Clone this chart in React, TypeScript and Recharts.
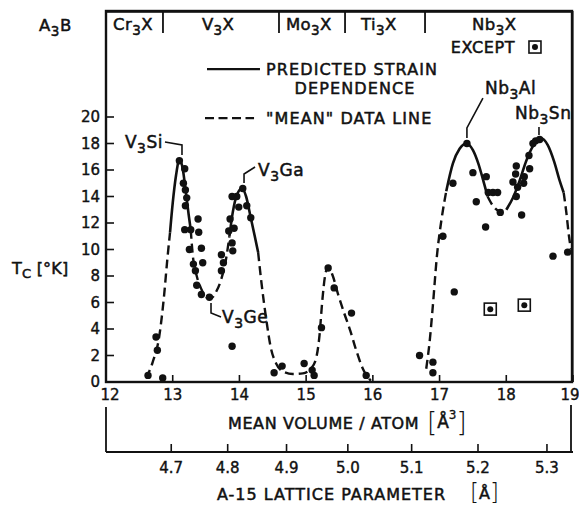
import React from 'react';
import { ComposedChart, XAxis, YAxis, Line, Scatter, CartesianGrid } from 'recharts';

const FONT = '"DejaVu Sans", "Liberation Sans", sans-serif';
const INK = '#111';
const MARGIN = { top: 11, right: 6, bottom: 0, left: 66 };

// ---- axis ticks ----
const volumeTicks = [12, 13, 14, 15, 16, 17, 18, 19];
const tcTicks = [0, 2, 4, 6, 8, 10, 12, 14, 16, 18, 20];
const latticeTicks = [4.7, 4.8, 4.9, 5.0, 5.1, 5.2, 5.3];

type P = [number, number];

// ---- measured points: [mean volume per atom (A^3), Tc (K)] ----
const vPoints: P[] = [
  [12.63, 0.5], [12.75, 3.4], [12.77, 2.4], [12.85, 0.3],
  [13.1, 16.7], [13.18, 16.1], [13.16, 15.0], [13.19, 14.5], [13.21, 13.9], [13.19, 13.3],
  [13.18, 11.5], [13.27, 11.5], [13.38, 12.3], [13.39, 11.3], [13.25, 10.0], [13.43, 10.1],
  [13.45, 9.0], [13.31, 8.9], [13.34, 8.4], [13.36, 7.3], [13.43, 6.6], [13.55, 6.4],
  [14.05, 14.6], [13.89, 14.0], [13.96, 14.0], [13.99, 13.2], [14.11, 13.3], [14.17, 12.4],
  [13.86, 12.3], [13.92, 11.6], [13.84, 11.4], [13.89, 10.5], [13.9, 9.9], [13.73, 9.6],
  [13.76, 9.0], [13.73, 8.4], [13.89, 2.7], [14.52, 0.7], [14.64, 1.2],
];
const moPoints: P[] = [
  [14.97, 1.4], [15.09, 0.9], [15.12, 0.5], [15.23, 4.1], [15.33, 8.6], [15.42, 7.1],
  [15.68, 5.2], [15.9, 0.5],
];
const nbPoints: P[] = [
  [16.7, 2.0], [16.9, 1.5], [16.9, 0.7], [17.05, 11.0], [17.22, 6.8], [17.2, 15.0],
  [17.41, 18.0], [17.5, 15.8], [17.7, 15.5], [17.73, 14.3], [17.8, 14.3], [17.87, 14.3],
  [17.55, 13.6], [17.69, 11.7], [17.91, 12.8], [18.23, 12.6], [18.15, 14.0], [18.17, 14.7],
  [18.1, 15.1], [18.26, 15.0], [18.14, 15.7], [18.15, 16.3], [18.35, 16.1], [18.27, 15.5],
  [18.34, 17.1], [18.4, 18.0], [18.44, 18.2], [18.5, 18.3], [18.7, 9.5], [18.92, 9.8],
];
const exceptPoints: P[] = [[17.76, 5.5], [18.27, 5.8]];

// ---- "predicted strain dependence" (solid) ----
const solidCurves: P[][] = [
  [[12.96, 11.3], [13.0, 13.5], [13.05, 15.6], [13.1, 16.8], [13.15, 16.1], [13.2, 14.2], [13.24, 12.6], [13.27, 11.5]],
  [[13.85, 11.0], [13.9, 12.8], [13.96, 14.1], [14.04, 14.6], [14.1, 14.0], [14.17, 12.4], [14.23, 11.0], [14.28, 9.8]],
  [[17.1, 14.4], [17.2, 16.5], [17.3, 17.6], [17.4, 18.0], [17.5, 17.5], [17.58, 16.5], [17.65, 15.3], [17.72, 14.0]],
  [[18.0, 13.0], [18.1, 13.9], [18.2, 15.2], [18.3, 16.7], [18.4, 17.8], [18.52, 18.4], [18.62, 17.9], [18.72, 16.6], [18.8, 15.2], [18.86, 14.3]],
];

// ---- "mean" data line (dashed) ----
const dashedCurves: P[][] = [
  [[12.6, 0.3], [12.7, 1.5], [12.8, 3.5], [12.87, 6.5], [12.92, 9.3], [12.96, 11.3]],
  [[13.27, 11.5], [13.3, 9.6], [13.36, 8.0], [13.43, 7.0], [13.5, 6.4], [13.57, 6.3], [13.65, 6.8], [13.73, 7.8], [13.8, 9.3], [13.85, 11.0]],
  [[14.28, 9.8], [14.33, 7.5], [14.4, 4.8], [14.47, 2.6], [14.55, 1.4], [14.65, 0.8], [14.8, 0.6], [14.95, 0.65], [15.07, 1.0],
   [15.15, 1.8], [15.2, 3.5], [15.24, 6.0], [15.28, 7.9], [15.33, 8.7], [15.4, 8.0], [15.48, 6.6], [15.57, 5.2], [15.66, 3.9],
   [15.75, 2.4], [15.85, 1.0], [15.97, 0.1]],
  [[16.8, 1.0], [16.85, 3.0], [16.9, 5.8], [16.96, 9.5], [17.03, 12.3], [17.1, 14.4]],
  [[17.72, 14.0], [17.8, 13.3], [17.9, 12.9], [18.0, 13.0]],
  [[18.86, 14.3], [18.9, 12.8], [18.94, 11.0], [18.97, 10.0]],
];

// ---- header strip ----
const familyDividers = [12.854, 14.593, 15.583, 16.782];
const familyLabels = [
  { x: 12.405, y: 27.0, text: 'Cr_3X' },
  { x: 13.68, y: 27.0, text: 'V_3X' },
  { x: 15.04, y: 27.0, text: 'Mo_3X' },
  { x: 16.09, y: 27.0, text: 'Ti_3X' },
  { x: 17.82, y: 27.0, text: 'Nb_3X' },
];

// ---- annotations ----
const textNotes = [
  { x: 17.65, y: 25.28, text: 'EXCEPT', anchor: 'middle', fs: 16, sp: 0.6 },
  { x: 14.4, y: 23.62, text: 'PREDICTED STRAIN', anchor: 'start', fs: 16, sp: 1.1 },
  { x: 15.733, y: 22.19, text: 'DEPENDENCE', anchor: 'middle', fs: 16, sp: 1.1 },
  { x: 14.4, y: 19.92, text: '"MEAN" DATA LINE', anchor: 'start', fs: 16, sp: 1.1 },
  { x: 12.854, y: 18.11, text: 'V_3Si', anchor: 'end', fs: 17, sp: 0.5 },
  { x: 14.28, y: 16.0, text: 'V_3Ga', anchor: 'start', fs: 17, sp: 0.5 },
  { x: 13.74, y: 4.91, text: 'V_3Ge', anchor: 'start', fs: 17, sp: 0.5 },
  { x: 17.68, y: 22.2, text: 'Nb_3Al', anchor: 'start', fs: 17, sp: 0.5 },
  { x: 18.13, y: 20.3, text: 'Nb_3Sn', anchor: 'start', fs: 17, sp: 0.5 },
];
const legendSymbolExcept: P[] = [[18.43, 25.28]];
const legendSolid: P[] = [[13.514, 23.62], [14.308, 23.62]];
const legendDashed: P[] = [[13.484, 19.92], [14.219, 19.92]];
const leaders: P[][] = [
  [[12.884, 18.11], [13.139, 17.89], [13.139, 17.13]],
  [[14.069, 15.02], [14.069, 15.7], [14.234, 16.23]],
  [[13.574, 5.96], [13.574, 5.21], [13.724, 4.91]],
  [[17.41, 18.42], [17.41, 19.17], [17.65, 21.43]],
  [[18.49, 19.25], [18.49, 18.64]],
];
const latticeAnchor: P[] = [[12, 0], [19, 0]];

const toXY = (arr: P[]) => arr.map(([x, y]) => ({ x, y }));

function Rich({ x, y, text, size, anchor = 'start', spacing = 0 }: any) {
  const tokens = text.split(/(_.|\^.)/).filter((t: string) => t.length > 0);
  let shift = 0;
  const nodes = tokens.map((t: string, i: number) => {
    let target = 0;
    let fs = size;
    let content = t;
    if (t[0] === '_') { target = size * 0.28; fs = size * 0.82; content = t.slice(1); }
    else if (t[0] === '^') { target = -size * 0.42; fs = size * 0.72; content = t.slice(1); }
    const dy = target - shift;
    shift = target;
    return <tspan key={i} dy={dy} fontSize={fs}>{content}</tspan>;
  });
  return (
    <text x={x} y={y} textAnchor={anchor} fontFamily={FONT} fontSize={size} fill={INK}
      letterSpacing={spacing} stroke={INK} strokeWidth={0.5}>
      {nodes}
    </text>
  );
}

const DotShape = (p: any) => <circle cx={p.cx} cy={p.cy} r={3.7} fill={INK} />;
const BoxShape = (p: any) => (
  <g>
    <rect x={p.cx - 6} y={p.cy - 6} width={12} height={12} fill="#fff" stroke={INK} strokeWidth={1.6} />
    <circle cx={p.cx} cy={p.cy} r={3} fill={INK} />
  </g>
);
const LabelShape = (p: any) => {
  const d = p.payload;
  return <Rich x={p.cx} y={p.cy + d.fs * 0.36} text={d.text} size={d.fs} anchor={d.anchor} spacing={d.sp} />;
};
const HeaderShape = (p: any) => (
  <Rich x={p.cx} y={p.cy + 6} text={p.payload.text} size={16.5} anchor="middle" spacing={0.4} />
);
const NoShape = () => <g />;

const YTick = (p: any) => {
  const { x, y, payload } = p;
  return (
    <g>
      <line x1={x} x2={x + 8} y1={y} y2={y} stroke={INK} strokeWidth={1.6} />
      <text x={x - 6} y={y + 5} textAnchor="end" fontSize={15} fontFamily={FONT} fill={INK} stroke={INK} strokeWidth={0.4}>
        {payload.value}
      </text>
    </g>
  );
};
const XTick = (p: any) => {
  const { x, y, payload, index } = p;
  const dx = index === 0 ? 4 : payload.value === 19 ? -3 : 0;
  return (
    <g>
      <line x1={x} x2={x} y1={y} y2={y - 7} stroke={INK} strokeWidth={1.6} />
      <text x={x + dx} y={y + 18} textAnchor="middle" fontSize={15} fontFamily={FONT} fill={INK}
        stroke={INK} strokeWidth={0.4}>
        {payload.value}
      </text>
    </g>
  );
};
const LatTick = (p: any) => {
  const { x, y, payload } = p;
  const a = Math.cbrt(payload.value * 8);
  return (
    <g>
      <line x1={x} x2={x} y1={y} y2={y - 8} stroke={INK} strokeWidth={1.6} />
      <text x={x} y={y + 21} textAnchor="middle" fontSize={15} fontFamily={FONT} fill={INK} stroke={INK} strokeWidth={0.4}>
        {a.toFixed(1)}
      </text>
    </g>
  );
};

const VolumeTitle = (p: any) => {
  const vb = p.viewBox;
  return (
    <g>
      {/* plot frame */}
      <rect x={vb.x} y={MARGIN.top} width={vb.width - 1} height={vb.y - MARGIN.top}
        fill="none" stroke={INK} strokeWidth={2.4} />
      <Rich x={vb.x + 122} y={vb.y + 47} text="MEAN VOLUME / ATOM" size={16} spacing={0.6} />
      <text x={vb.x + 321} y={vb.y + 49} fontFamily={FONT} fill={INK}>
        <tspan fontSize={26} fontWeight={200}>[</tspan>
        <tspan fontSize={17} dy={-3} stroke={INK} strokeWidth={0.5}>Å</tspan>
        <tspan fontSize={12} dy={-9} stroke={INK} strokeWidth={0.3}>3</tspan>
        <tspan fontSize={26} dy={12} fontWeight={200}>]</tspan>
      </text>
    </g>
  );
};
const LatticeTitle = (p: any) => {
  const vb = p.viewBox;
  return (
    <g>
      <line x1={vb.x} x2={vb.x} y1={vb.y} y2={vb.y - 45} stroke={INK} strokeWidth={1.8} />
      <line x1={vb.x + vb.width - 2} x2={vb.x + vb.width - 2} y1={vb.y} y2={vb.y - 47} stroke={INK} strokeWidth={1.8} />
      <Rich x={vb.x + 111} y={vb.y + 48} text="A-15 LATTICE PARAMETER" size={16} spacing={1.0} />
      <text x={vb.x + 364} y={vb.y + 48} fontFamily={FONT} fill={INK}>
        <tspan fontSize={23} fontWeight={200}>[</tspan>
        <tspan fontSize={16} dy={-1} stroke={INK} strokeWidth={0.5}>Å</tspan>
        <tspan fontSize={23} dy={1} fontWeight={200}>]</tspan>
      </text>
    </g>
  );
};
const YTitle = (p: any) => {
  const vb = p.viewBox;
  return (
    <g>
      <Rich x={vb.x - 27} y={vb.y + 20} text="A_3B" size={16.5} spacing={0.5} />
      <Rich x={vb.x - 54} y={vb.y + 263} text="T_C [°K]" size={16} spacing={0.2} />
    </g>
  );
};

export default function App() {
  return (
    <div style={{ position: 'absolute', left: 0, top: 0, width: 579, height: 506, background: '#fff' }}>
      <ComposedChart width={579} height={506} margin={MARGIN}>
        <CartesianGrid horizontalValues={[27.95]} verticalValues={[18.99]} stroke={INK} strokeWidth={2.4}
          strokeOpacity={1} />
        <XAxis xAxisId={0} dataKey="x" type="number" domain={[12, 19]} ticks={volumeTicks} interval={0}
          height={70} tickSize={0} tickMargin={0} tickLine={false} tick={XTick}
          axisLine={{ stroke: INK, strokeWidth: 2 }} label={VolumeTitle} />
        <XAxis xAxisId="lat" dataKey="x" type="number" domain={[12, 19]}
          ticks={latticeTicks.map((a) => (a * a * a) / 8)} interval={0}
          height={54} tickSize={0} tickMargin={0} tickLine={false} tick={LatTick}
          axisLine={{ stroke: INK, strokeWidth: 1.8 }} label={LatticeTitle} />
        <YAxis yAxisId={0} dataKey="y" type="number" domain={[0, 28]} ticks={tcTicks} interval={0} width={40}
          tickSize={0} tickMargin={0} tickLine={false} tick={YTick}
          axisLine={{ stroke: INK, strokeWidth: 2 }} label={YTitle} />

        <Scatter xAxisId="lat" data={toXY(latticeAnchor)} dataKey="y" shape={NoShape} isAnimationActive={false} />

        {familyDividers.map((x, i) => (
          <Line key={'div' + i} data={[{ x, y: 28 }, { x, y: 26.34 }]} dataKey="y" type="linear"
            stroke={INK} strokeWidth={1.8} dot={false} isAnimationActive={false} />
        ))}

        {dashedCurves.map((c, i) => (
          <Line key={'d' + i} data={toXY(c)} dataKey="y" type="monotone" stroke={INK} strokeWidth={2.4}
            strokeDasharray="9 5" dot={false} isAnimationActive={false} />
        ))}
        {solidCurves.map((c, i) => (
          <Line key={'s' + i} data={toXY(c)} dataKey="y" type="monotone" stroke={INK} strokeWidth={2.6}
            dot={false} isAnimationActive={false} />
        ))}
        {leaders.map((c, i) => (
          <Line key={'l' + i} data={toXY(c)} dataKey="y" type="linear" stroke={INK} strokeWidth={1.6}
            dot={false} isAnimationActive={false} />
        ))}
        <Line data={toXY(legendSolid)} dataKey="y" type="linear" stroke={INK} strokeWidth={2.2}
          dot={false} isAnimationActive={false} />
        <Line data={toXY(legendDashed)} dataKey="y" type="linear" stroke={INK} strokeWidth={2.2}
          strokeDasharray="9 4.5" dot={false} isAnimationActive={false} />

        <Scatter data={toXY(vPoints)} dataKey="y" shape={DotShape} isAnimationActive={false} />
        <Scatter data={toXY(moPoints)} dataKey="y" shape={DotShape} isAnimationActive={false} />
        <Scatter data={toXY(nbPoints)} dataKey="y" shape={DotShape} isAnimationActive={false} />
        <Scatter data={toXY(exceptPoints)} dataKey="y" shape={BoxShape} isAnimationActive={false} />
        <Scatter data={toXY(legendSymbolExcept)} dataKey="y" shape={BoxShape} isAnimationActive={false} />
        <Scatter data={familyLabels} dataKey="y" shape={HeaderShape} isAnimationActive={false} />
        <Scatter data={textNotes} dataKey="y" shape={LabelShape} isAnimationActive={false} />
      </ComposedChart>
    </div>
  );
}
